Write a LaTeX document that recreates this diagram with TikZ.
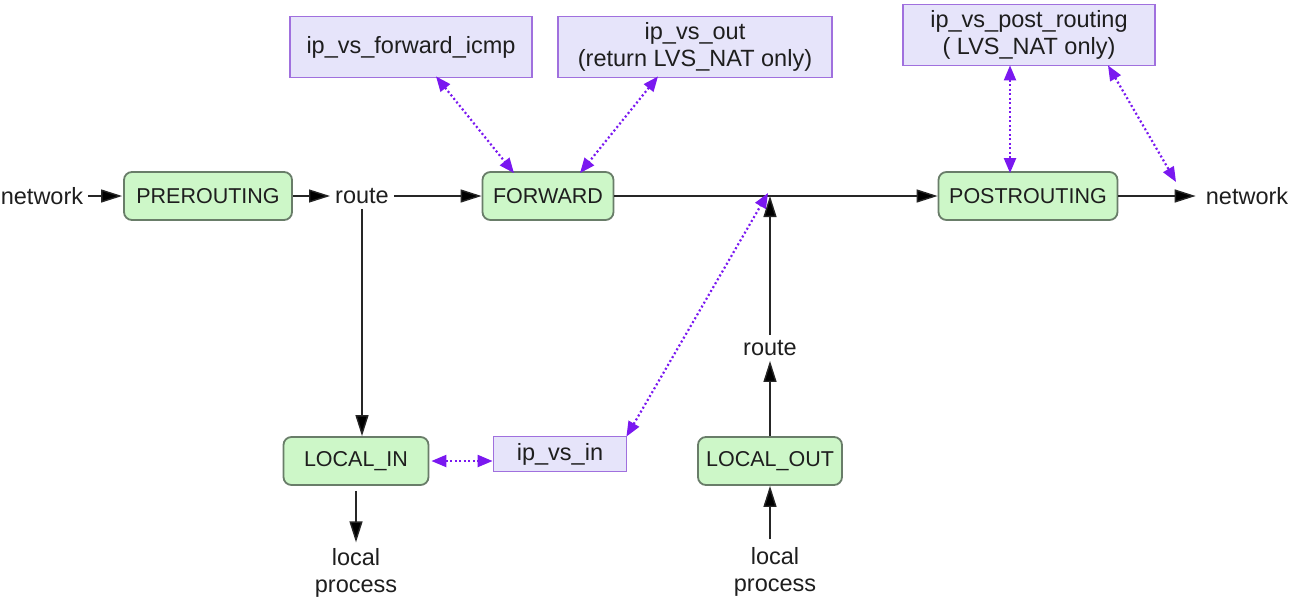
\documentclass[tikz,border=0pt]{standalone}
\usepackage{fontspec}
\setmainfont{Liberation Sans}
\usetikzlibrary{arrows.meta}
\definecolor{gfill}{RGB}{205,247,200}
\definecolor{gdraw}{RGB}{105,125,105}
\definecolor{pfill}{RGB}{230,228,250}
\definecolor{pdraw}{RGB}{160,112,222}
\definecolor{parrc}{RGB}{122,24,240}
\definecolor{txtc}{RGB}{30,30,30}
\begin{document}
\begin{tikzpicture}[x=1pt,y=-1pt,
  font=\fontsize{23.5}{27}\selectfont,
  every node/.style={text=txtc},
  txt/.style={inner sep=5pt},
  gbox/.style={draw=gdraw, fill=gfill, line width=1.8pt, rounded corners=8pt, minimum height=48pt, inner sep=2pt, font=\fontsize{21.5}{27}\selectfont},
  pbox/.style={draw=pdraw, fill=pfill, line width=1.8pt, inner sep=2pt},
  arr/.style={line width=1.4pt, draw=black!85, -{Triangle[length=21pt,width=13pt,fill=black]}},
  plain/.style={line width=1.4pt, draw=black!85},
  parr/.style={line width=2.2pt, draw=parrc, dash pattern=on 2pt off 2.5pt,
    {Triangle[length=15pt,width=12pt,fill=parrc]}-{Triangle[length=15pt,width=12pt,fill=parrc]}}
]
\useasboundingbox (0,0) rectangle (1290,603);

\node[txt] (net1) at (42,196) {network};
\node[gbox, minimum width=168pt] (pre) at (208,196) {PREROUTING};
\node[txt] (route1) at (362,196) {route};
\node[gbox, minimum width=131pt] (fwd) at (548,196) {FORWARD};
\coordinate (j) at (770,196);
\node[gbox, minimum width=179pt] (post) at (1028,196) {POSTROUTING};
\node[txt, inner sep=10pt] (net2) at (1247,196) {network};
\coordinate (ntip) at (1176,182);

\node[pbox, minimum width=242pt, minimum height=61pt] (icmp) at (411,47) {ip\_vs\_forward\_icmp};
\node[pbox, minimum width=274pt, minimum height=61pt, align=center] (out) at (695,47) {ip\_vs\_out\\(return LVS\_NAT only)};
\node[pbox, minimum width=252pt, minimum height=61pt, align=center] (postr) at (1029,35) {ip\_vs\_post\_routing\\( LVS\_NAT only)};

\node[gbox, minimum width=145pt] (lin) at (356,461) {LOCAL\_IN};
\node[pbox, minimum width=133pt, minimum height=35pt] (in) at (560,454) {ip\_vs\_in};
\node[gbox, minimum width=144pt] (lout) at (770,461) {LOCAL\_OUT};
\node[txt] (route2) at (770,348) {route};
\node[txt, align=center, inner sep=6pt] (lp1) at (356,573) {local\\process};
\node[txt, align=center, inner sep=8pt] (lp2) at (775,572) {local\\process};

% black flow
\draw[arr, shorten >=1pt] (net1) -- (pre);
\draw[arr] (pre) -- (route1);
\draw[arr] (route1) -- (fwd);
\draw[arr] (route1.south) -- (route1.south |- lin.north);
\draw[arr, shorten <=5pt] (lin) -- (lp1);
\draw[plain] (fwd) -- (j);
\draw[arr] (j) -- (post);
\draw[arr] (post) -- (net2);
\draw[arr] (lp2.north -| lout.south) -- (lout.south);
\draw[arr] (lout) -- (route2);
\draw[arr] (route2) -- (j);

% purple dotted
\draw[parr] ([xshift=25pt,yshift=2pt]icmp.south) -- ([xshift=-34pt,yshift=-2pt]fwd.north);
\draw[parr] ([xshift=-37pt,yshift=2pt]out.south) -- ([xshift=32pt,yshift=-2pt]fwd.north);
\draw[parr] ([xshift=-19pt,yshift=1pt]postr.south) -- ([xshift=-19pt,yshift=-2pt]postr.south |- post.north);
\draw[parr] ([xshift=79pt,yshift=1pt]postr.south) -- (ntip);
\draw[parr] ([xshift=2pt]lin.east) -- (lin.east -| in.west);
\draw[parr] ([xshift=-1pt,yshift=-1pt]in.north east) -- ([xshift=-2pt,yshift=3pt]j);
\end{tikzpicture}
\end{document}
